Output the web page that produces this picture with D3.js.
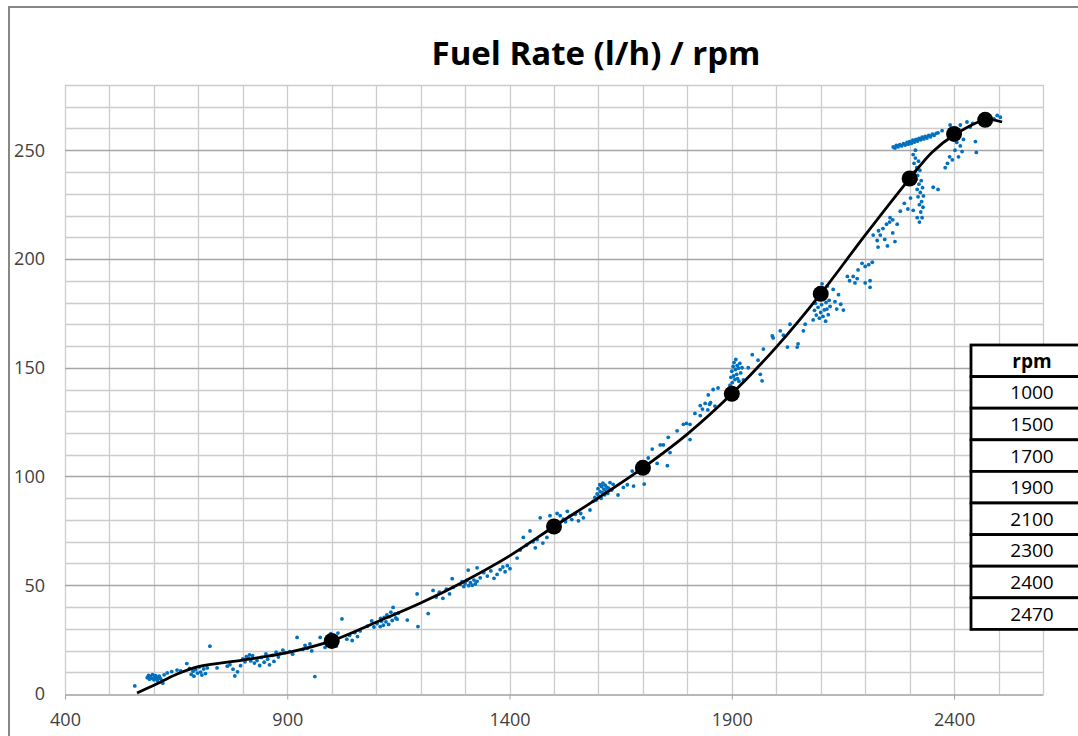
<!DOCTYPE html>
<html>
<head>
<meta charset="utf-8">
<script src="https://cdn.jsdelivr.net/npm/d3@7"></script>
<style>
  body { margin: 0; background: #fff; }
  svg { display: block; }
</style>
</head>
<body>
<svg id="Chart" width="1078" height="736"></svg>
<script>
// chart data
var chartTitle = "Fuel Rate (l/h) / rpm";
var xTicks = [400, 900, 1400, 1900, 2400];
var yTicks = [0, 50, 100, 150, 200, 250];

// trend line points (rpm, l/h)
var curveRpm  = [562, 600, 650, 700, 800, 900, 1000, 1100, 1200, 1300, 1400, 1500, 1600, 1700, 1800, 1900, 2000, 2100, 2200, 2300, 2350, 2400, 2470, 2508];
var curveFuel = [0.5, 4, 9, 12.6, 15.6, 19, 24.4, 33, 41.8, 52, 63.5, 77, 90.2, 104, 119.5, 138, 159.5, 184, 211, 237, 249, 257, 264, 263];

// big black markers and table rows
var markerRpm  = [1000, 1500, 1700, 1900, 2100, 2300, 2400, 2470];
var markerFuel = [24.4, 77, 104, 138, 184, 237, 257.5, 264];
var tableHeader = "rpm";

// measured samples [rpm, l/h]
var samples = [
  [557,3.7],[585,7.5],[588,8.6],[590,6.8],[592,8.1],[595,7.2],[597,8.9],[600,6.5],[602,7.8],[604,8.4],
  [606,7.0],[608,6.2],[610,7.6],[612,8.2],[615,7.1],[618,5.9],[620,5.0],[623,8.8],[630,9.7],[640,10.3],
  [652,11.0],[660,10.6],[674,14.0],[680,11.8],[684,9.0],[688,10.5],[690,8.2],[694,11.2],[698,9.6],[702,12.4],
  [705,10.1],[708,8.7],[712,11.5],[716,9.4],[720,12.0],[726,22.0],[742,12.0],[765,12.8],[771,13.5],[778,11.4],
  [782,8.3],[788,10.2],[795,13.0],[800,16.1],[805,14.8],[808,17.2],[812,16.5],[815,18.0],[818,15.2],[822,17.6],
  [826,14.2],[832,15.4],[838,13.1],[842,16.8],[848,14.6],[852,18.4],[856,16.0],[860,13.4],[866,17.8],[870,15.0],
  [875,19.2],[880,17.0],[884,18.6],[890,20.2],[895,19.0],[905,19.5],[912,18.3],[922,26.0],[935,20.5],[940,22.4],
  [945,21.0],[951,23.0],[955,19.8],[962,8.0],[974,26.0],[985,21.4],[990,22.6],[994,25.4],[998,27.8],[1002,23.4],
  [1006,26.2],[1010,22.0],[1014,28.0],[1023,34.5],[1034,25.2],[1040,27.0],[1046,24.6],[1052,28.2],[1058,26.4],[1064,29.0],
  [1080,31.2],[1090,33.6],[1095,30.8],[1102,32.4],[1110,34.8],[1116,31.6],[1122,33.2],[1130,35.6],[1136,33.8],[1142,36.8],
  [1147,34.4],[1109,31.0],[1112,33.5],[1118,35.2],[1124,36.4],[1128,32.0],[1133,37.6],[1138,39.8],[1144,35.0],[1150,37.2],
  [1170,34.0],[1194,31.0],[1192,46.0],[1217,37.0],[1228,47.6],[1235,44.6],[1242,46.8],[1250,44.0],[1258,48.2],[1265,46.0],
  [1271,53.0],[1273,49.0],[1289,50.4],[1293,51.6],[1297,49.4],[1300,50.8],[1304,52.2],[1307,57.0],[1308,49.8],[1312,51.2],
  [1316,50.0],[1320,52.4],[1323,50.6],[1327,58.0],[1327,51.8],[1334,53.4],[1342,55.8],[1350,54.2],[1358,56.6],[1365,53.2],
  [1372,55.0],[1379,57.2],[1385,58.4],[1390,56.2],[1395,59.0],[1401,57.6],[1417,62.5],[1424,66.2],[1431,72.0],[1438,68.4],
  [1446,75.0],[1453,70.0],[1458,67.2],[1462,71.0],[1469,81.0],[1475,69.4],[1484,72.0],[1491,82.0],[1507,83.0],[1514,82.0],
  [1521,80.4],[1526,79.2],[1530,84.0],[1535,81.6],[1540,80.2],[1548,82.6],[1555,79.6],[1560,83.0],[1566,81.0],[1581,84.6],
  [1588,88.6],[1592,90.4],[1595,89.2],[1597,92.0],[1599,94.4],[1601,91.0],[1603,96.2],[1604,93.0],[1606,90.0],[1607,95.4],
  [1609,92.6],[1610,97.0],[1612,94.2],[1614,91.6],[1615,96.0],[1617,93.4],[1619,95.0],[1621,92.2],[1623,94.6],[1626,97.2],
  [1630,93.8],[1633,96.4],[1644,91.5],[1656,95.0],[1665,96.2],[1679,95.6],[1676,102.5],[1703,96.5],[1712,108.5],[1721,112.6],
  [1732,106.0],[1739,114.5],[1746,114.5],[1755,105.0],[1757,118.0],[1761,111.0],[1777,121.0],[1791,124.0],[1798,124.4],[1806,124.0],
  [1806,117.0],[1817,129.0],[1829,128.0],[1834,131.0],[1840,133.6],[1846,130.6],[1852,134.0],[1847,137.5],[1858,140.0],[1869,140.7],
  [1829,132.6],[1850,133.2],[1862,132.4],
  [1896,142.0],[1898,145.6],[1900,148.4],[1901,143.2],[1903,150.6],[1904,146.2],[1905,152.4],[1907,144.6],[1908,149.2],[1909,153.8],
  [1911,147.0],[1912,151.0],[1913,145.0],[1915,149.8],[1916,143.8],[1918,152.0],[1920,147.6],[1923,150.0],[1926,144.4],[1937,150.0],
  [1946,156.0],[1959,153.5],[1964,147.0],[1968,144.0],[1971,158.6],[1991,164.6],[1993,163.7],[2009,167.0],[2016,165.0],[2025,159.5],
  [2031,170.0],[2047,159.5],[2049,161.0],[2061,167.0],[2065,170.0],
  [2083,172.0],[2086,176.4],[2088,179.6],[2090,174.2],[2092,183.0],[2094,177.8],[2096,181.4],[2097,172.8],[2099,186.0],[2100,175.4],
  [2102,179.0],[2103,188.6],[2105,173.6],[2106,182.2],[2108,176.6],[2109,185.4],[2111,171.4],[2112,180.0],[2114,177.0],[2115,187.6],
  [2117,174.4],[2119,181.0],[2121,178.2],[2128,186.0],[2132,180.4],[2136,177.0],[2140,183.6],[2145,179.2],[2151,176.5],[2160,192.0],
  [2173,192.0],[2177,189.0],[2165,190.0],[2182,191.0],[2184,195.0],[2193,198.0],[2200,196.6],[2208,197.4],[2216,198.5],[2200,189.0],
  [2211,187.0],[2211,190.0],[2218,211.0],[2229,205.5],[2227,208.5],[2230,213.0],[2234,211.0],[2240,214.0],[2244,209.0],[2250,206.0],
  [2248,216.0],[2255,217.0],[2256,219.0],[2262,212.0],[2262,218.0],[2267,208.0],[2272,216.0],
  [2263,251.5],[2267,251.0],[2270,252.2],[2274,251.6],[2278,252.6],[2282,252.0],[2286,253.0],[2290,252.4],[2294,253.6],[2297,252.8],
  [2300,254.0],[2304,253.2],[2307,254.6],[2311,253.8],[2314,255.0],[2318,254.2],[2321,255.4],[2325,254.8],[2328,256.0],[2332,255.2],
  [2335,256.4],[2339,255.6],[2343,256.8],[2347,256.2],[2351,257.4],[2355,256.8],[2360,257.8],[2364,258.0],
  [2308,248.0],[2310,244.0],[2312,240.2],[2313,246.4],[2315,236.6],[2316,242.0],[2317,232.0],[2318,238.4],[2319,228.6],[2320,245.0],
  [2321,234.4],[2322,225.0],[2323,240.8],[2324,230.6],[2325,221.6],[2326,236.0],[2327,226.4],[2328,219.0],[2329,232.8],[2330,223.8],
  [2331,229.0],[2317,219.0],[2322,217.0],[2313,250.0],
  [2279,222.0],[2288,225.6],[2296,223.0],[2302,228.0],[2308,222.4],[2353,233.0],[2364,232.0],
  [2373,259.0],[2391,261.6],[2398,255.0],[2402,250.0],[2406,253.6],[2410,247.0],[2414,252.0],[2418,249.4],[2421,255.0],[2385,244.0],
  [2390,247.0],[2396,245.6],[2380,242.0],[2414,261.6],[2429,263.0],[2448,254.0],[2450,249.0],[2459,262.5],[2466,264.0],[2474,263.2],
  [2482,265.0],[2490,264.4],[2497,266.0],[2504,265.2],[2436,260.6],[2442,262.4]
];

var svg = d3.select("svg#Chart");
var fontFam = "Open Sans, Liberation Sans, sans-serif";

// scales for the plot area
var x = d3.scaleLinear().domain([400, 2600]).range([65, 1043]),
    y = d3.scaleLinear().domain([0, 280]).range([694, 85]);

// chart frame (continues off the page at right / bottom)
svg.append("path")
  .attr("d", "M9,740 L9,7 L1090,7")
  .attr("fill", "none")
  .attr("stroke", "#878787")
  .attr("stroke-width", 2);

// title
svg.append("text")
  .attr("x", 596).attr("y", 65)
  .attr("text-anchor", "middle")
  .attr("font-family", fontFam)
  .attr("font-weight", "bold")
  .attr("font-size", 33)
  .attr("fill", "#000")
  .text(chartTitle);

// gridlines
var grid = svg.append("g");
grid.selectAll("line.vx")
  .data(d3.range(400, 2601, 100))
  .enter().append("line")
  .attr("x1", function(d) { return Math.round(x(d)) + 0.5; })
  .attr("x2", function(d) { return Math.round(x(d)) + 0.5; })
  .attr("y1", y(280)).attr("y2", y(0))
  .attr("stroke", "#cccccc")
  .attr("stroke-width", 1.3);

grid.selectAll("line.hy")
  .data(d3.range(10, 281, 10))
  .enter().append("line")
  .attr("x1", x(400)).attr("x2", x(2600))
  .attr("y1", function(d) { return Math.round(y(d)) + 0.5; })
  .attr("y2", function(d) { return Math.round(y(d)) + 0.5; })
  .attr("stroke", function(d) { return d % 50 == 0 ? "#a6a6a6" : "#cccccc"; })
  .attr("stroke-width", 1.3);

// x axis
var xAxis = svg.append("g")
  .attr("transform", "translate(0," + (Math.round(y(0)) + 0.5) + ")")
  .call(d3.axisBottom(x).tickValues(xTicks).tickFormat(d3.format("d"))
    .tickSize(5).tickSizeOuter(0).tickPadding(14));
xAxis.select(".domain").attr("stroke", "#a0a0a0").attr("stroke-width", 1.3);
xAxis.selectAll(".tick line").attr("stroke", "#a0a0a0");
xAxis.selectAll("text")
  .attr("font-family", fontFam).attr("font-size", 18).attr("fill", "#404040");

// y axis labels only
var yAxis = svg.append("g")
  .attr("transform", "translate(" + x(400) + ",0)")
  .call(d3.axisLeft(y).tickValues(yTicks).tickSize(0).tickPadding(20));
yAxis.select(".domain").remove();
yAxis.selectAll("text")
  .attr("font-family", fontFam).attr("font-size", 18).attr("fill", "#404040");

// scatter samples
svg.append("g").selectAll("circle")
  .data(samples)
  .enter().append("circle")
  .attr("cx", function(d) { return x(d[0]); })
  .attr("cy", function(d) { return y(d[1]); })
  .attr("r", 1.9)
  .attr("fill", "#0070c0");

// trend line
var line = d3.line()
  .x(function(d, i) { return x(curveRpm[i]); })
  .y(function(d, i) { return y(curveFuel[i]); })
  .curve(d3.curveCatmullRom);
svg.append("path")
  .datum(curveRpm)
  .attr("d", line)
  .attr("fill", "none")
  .attr("stroke", "#000")
  .attr("stroke-width", 2.8);

// markers
svg.append("g").selectAll("circle")
  .data(markerRpm)
  .enter().append("circle")
  .attr("cx", function(d) { return x(d); })
  .attr("cy", function(d, i) { return y(markerFuel[i]); })
  .attr("r", 8)
  .attr("fill", "#000");

// rpm table on the right
var tableX = 971, tableTop = 345, rowH = 31.6;
var rows = [tableHeader].concat(markerRpm.map(String));
var table = svg.append("g");
table.selectAll("rect")
  .data(rows)
  .enter().append("rect")
  .attr("x", tableX)
  .attr("y", function(d, i) { return tableTop + i * rowH; })
  .attr("width", 140)
  .attr("height", rowH)
  .attr("fill", "#fff")
  .attr("stroke", "#000")
  .attr("stroke-width", 2.8);
table.selectAll("text")
  .data(rows)
  .enter().append("text")
  .attr("x", 1032)
  .attr("y", function(d, i) { return tableTop + i * rowH + rowH / 2 + 7; })
  .attr("text-anchor", "middle")
  .attr("font-family", fontFam)
  .attr("font-size", 19)
  .attr("font-weight", function(d, i) { return i == 0 ? "bold" : "normal"; })
  .attr("fill", "#000")
  .text(function(d) { return d; });
</script>
</body>
</html>
